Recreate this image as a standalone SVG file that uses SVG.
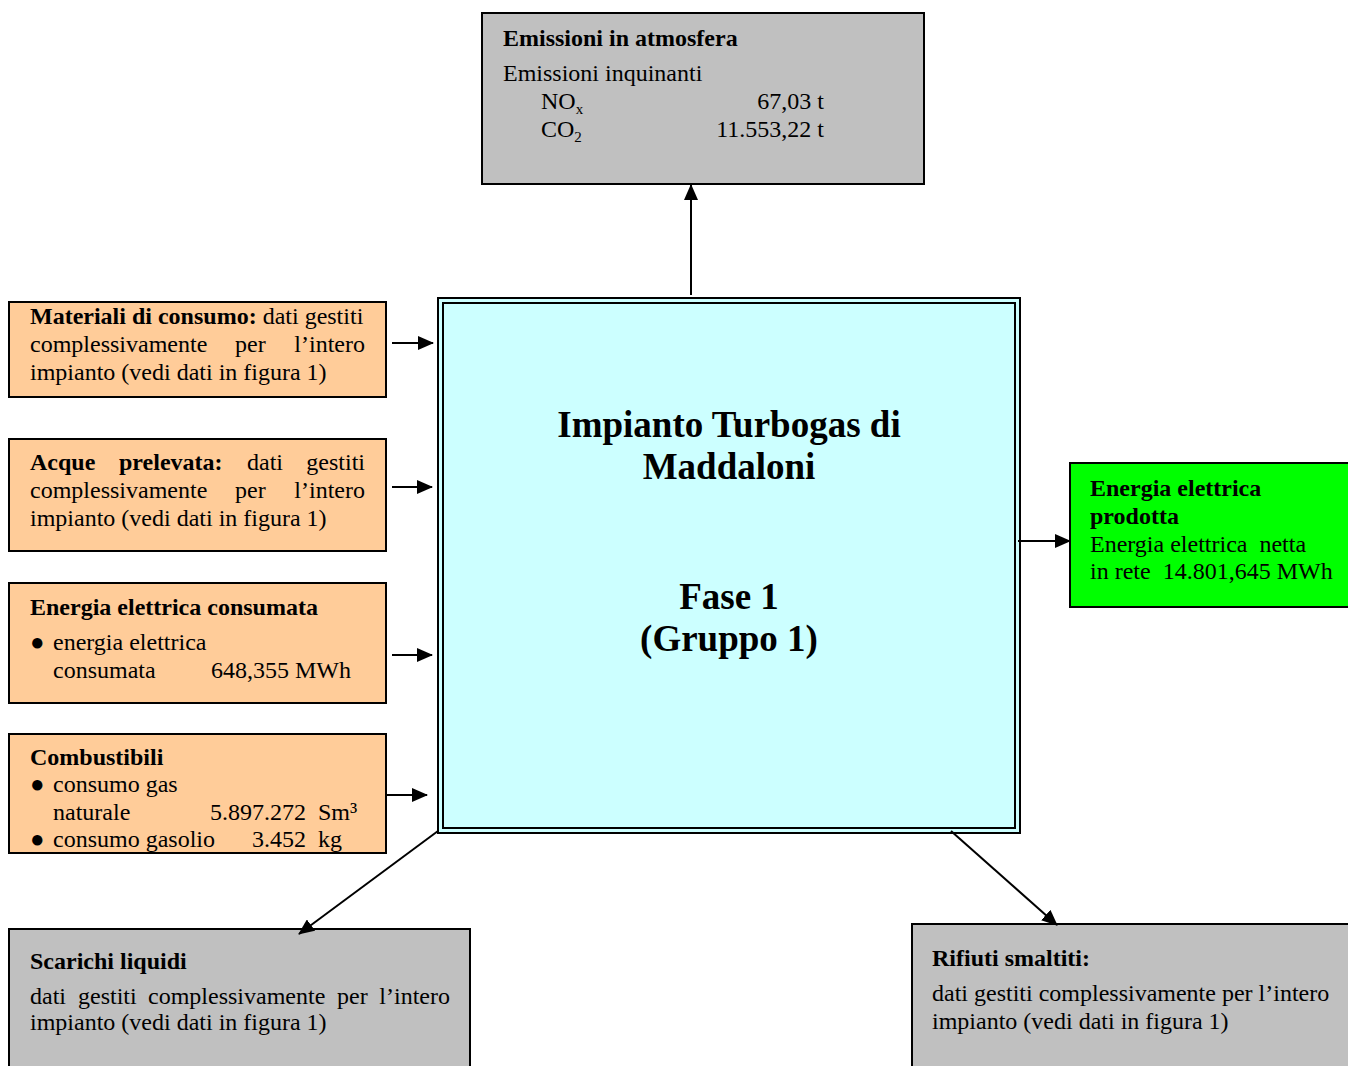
<svg xmlns="http://www.w3.org/2000/svg" width="1348" height="1066" viewBox="0 0 1348 1066">
<style>
text{font-family:"Liberation Serif","Times New Roman",serif;font-size:24px;fill:#000;white-space:pre}
.b{font-weight:bold}
.c{font-size:37px;font-weight:bold;text-anchor:middle}
.e{text-anchor:end}
.box{stroke:#000;stroke-width:2}
.gray{fill:#C0C0C0}
.org{fill:#FFCC99}
.conn line{stroke:#000;stroke-width:2}
</style>
<defs>
<marker id="ah" markerUnits="userSpaceOnUse" markerWidth="16" markerHeight="14" refX="15" refY="7" orient="auto">
<path d="M0,0 L16,7 L0,14 Z" fill="#000"/>
</marker>
</defs>
<rect width="1348" height="1066" fill="#fff"/>

<g id="emissioni">
<rect class="box gray" x="482" y="13" width="442" height="171"/>
<text class="b" x="503" y="46">Emissioni in atmosfera</text>
<text x="503" y="81">Emissioni inquinanti</text>
<text x="541" y="109">NO<tspan font-size="15" dy="5">x</tspan></text>
<text class="e" x="824" y="109">67,03 t</text>
<text x="541" y="137">CO<tspan font-size="15" dy="5">2</tspan></text>
<text class="e" x="824" y="137">11.553,22 t</text>
</g>

<g id="materiali">
<rect class="box org" x="9" y="302" width="377" height="95"/>
<text x="30" y="324"><tspan class="b">Materiali di consumo:</tspan> dati gestiti</text>
<text x="30" y="352">complessivamente</text>
<text x="235" y="352">per</text>
<text class="e" x="365" y="352">l’intero</text>
<text x="30" y="380">impianto (vedi dati in figura 1)</text>
</g>

<g id="acque">
<rect class="box org" x="9" y="439" width="377" height="112"/>
<text class="b" x="30" y="470">Acque</text>
<text class="b" x="119" y="470">prelevata:</text>
<text x="247" y="470">dati</text>
<text class="e" x="365" y="470">gestiti</text>
<text x="30" y="498">complessivamente</text>
<text x="235" y="498">per</text>
<text class="e" x="365" y="498">l’intero</text>
<text x="30" y="526">impianto (vedi dati in figura 1)</text>
</g>

<g id="energia-consumata">
<rect class="box org" x="9" y="583" width="377" height="120"/>
<text class="b" x="30" y="615">Energia elettrica consumata</text>
<text x="30" y="650">●</text>
<text x="53" y="650">energia elettrica</text>
<text x="53" y="678">consumata</text>
<text x="211" y="678">648,355 MWh</text>
</g>

<g id="combustibili">
<rect class="box org" x="9" y="734" width="377" height="119"/>
<text class="b" x="30" y="765">Combustibili</text>
<text x="30" y="792">●</text>
<text x="53" y="792">consumo gas</text>
<text x="53" y="820">naturale</text>
<text x="210" y="820">5.897.272  Sm³</text>
<text x="30" y="847">●</text>
<text x="53" y="847">consumo gasolio</text>
<text x="252" y="847">3.452</text>
<text x="318" y="847">kg</text>
</g>

<g id="impianto">
<rect x="438" y="298" width="582" height="535" fill="#CCFFFF" stroke="#000" stroke-width="2"/>
<rect x="443" y="303" width="572" height="525" fill="none" stroke="#000" stroke-width="2"/>
<text class="c" x="729" y="437">Impianto Turbogas di</text>
<text class="c" x="729" y="479">Maddaloni</text>
<text class="c" x="729" y="609">Fase 1</text>
<text class="c" x="729" y="651">(Gruppo 1)</text>
</g>

<g id="energia-prodotta">
<rect class="box" x="1070" y="463" width="290" height="144" fill="#00FF00"/>
<text class="b" x="1090" y="496">Energia elettrica</text>
<text class="b" x="1090" y="524">prodotta</text>
<text x="1090" y="552">Energia elettrica  netta</text>
<text x="1090" y="579">in rete  14.801,645 MWh</text>
</g>

<g id="scarichi">
<rect class="box gray" x="9" y="929" width="461" height="150"/>
<text class="b" x="30" y="969">Scarichi liquidi</text>
<text x="30" y="1004">dati</text>
<text x="78" y="1004">gestiti</text>
<text x="148" y="1004">complessivamente</text>
<text x="337" y="1004">per</text>
<text class="e" x="450" y="1004">l’intero</text>
<text x="30" y="1030">impianto (vedi dati in figura 1)</text>
</g>

<g id="rifiuti">
<rect class="box gray" x="912" y="924" width="450" height="155"/>
<text class="b" x="932" y="966">Rifiuti smaltiti:</text>
<text x="932" y="1001">dati gestiti complessivamente per l’intero</text>
<text x="932" y="1029">impianto (vedi dati in figura 1)</text>
</g>

<g id="connectors" class="conn">
<line x1="691" y1="295" x2="691" y2="185" marker-end="url(#ah)"/>
<line x1="392" y1="343" x2="433" y2="343" marker-end="url(#ah)"/>
<line x1="392" y1="487" x2="432" y2="487" marker-end="url(#ah)"/>
<line x1="392" y1="655" x2="432" y2="655" marker-end="url(#ah)"/>
<line x1="386" y1="795" x2="427" y2="795" marker-end="url(#ah)"/>
<line x1="1018" y1="541" x2="1070" y2="541" marker-end="url(#ah)"/>
<line x1="438" y1="831" x2="299" y2="934" marker-end="url(#ah)"/>
<line x1="951" y1="831" x2="1057" y2="925" marker-end="url(#ah)"/>
</g>
</svg>
